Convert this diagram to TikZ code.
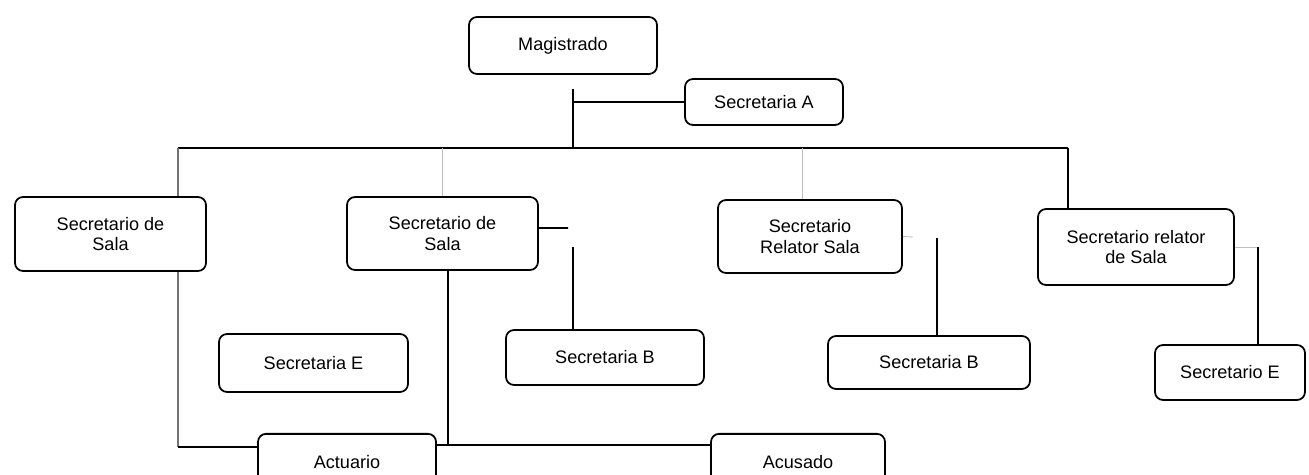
\documentclass[tikz,border=0pt]{standalone}
\usepackage{fontspec}
\setmainfont{Liberation Sans}
\usetikzlibrary{positioning, calc}

\begin{document}
\begin{tikzpicture}[x=0.02cm, y=-0.02cm,
    orgbox/.style={draw, rounded corners=0.16cm, line width=1pt, align=center,
        inner sep=0pt, font=\fontsize{10.3}{11.6}\selectfont},
    link/.style={line width=0.9pt},
    thinlink/.style={line width=0.6pt, black!55},
    faint/.style={line width=0.5pt, black!25}]
                \useasboundingbox (0,0) rectangle (1309,475);
                \clip (0,0) rectangle (1309,475);

                % Top level
                \node[orgbox, minimum width=3.76cm, minimum height=1.14cm] (mag) at (563,45.5) {Magistrado};
                \node[orgbox, minimum width=3.16cm, minimum height=0.92cm] (secA) at (764,102) {Secretaria A};

                % Secretarios
                \node[orgbox, minimum width=3.82cm, minimum height=1.48cm] (sala1) at (110.5,234) {Secretario de\\Sala};
                \node[orgbox, minimum width=3.82cm, minimum height=1.46cm] (sala2) at (442.5,233.5) {Secretario de\\Sala};
                \node[orgbox, minimum width=3.68cm, minimum height=1.46cm] (relS) at (810,236.5) {Secretario\\Relator Sala};
                \node[orgbox, minimum width=3.92cm, minimum height=1.52cm] (relDS) at (1136,247) {Secretario relator\\de Sala};

                % Secretarias
                \node[orgbox, minimum width=3.78cm, minimum height=1.16cm] (secE) at (313.5,363) {Secretaria E};
                \node[orgbox, minimum width=3.96cm, minimum height=1.10cm] (secB1) at (605,357.5) {Secretaria B};
                \node[orgbox, minimum width=4.04cm, minimum height=1.06cm] (secB2) at (929,362.5) {Secretaria B};
                \node[orgbox, minimum width=3.00cm, minimum height=1.10cm] (secE2) at (1230,372.5) {Secretario E};

                % Bottom row
                \node[orgbox, minimum width=3.56cm, minimum height=1.14cm, anchor=north] (act) at (347,433) {Actuario};
                \node[orgbox, minimum width=3.48cm, minimum height=1.14cm, anchor=north] (acu) at (798,433) {Acusado};

                % Bus and stubs
                \coordinate (trunk) at (573,148);
                \coordinate (busL) at (178,148);
                \coordinate (busR) at (1068,148);
                \coordinate (s2stub) at (568,228);
                \coordinate (b1top) at (573,247);
                \coordinate (rsstub) at (913,237);
                \coordinate (b2top) at (937,238);
                \coordinate (e2top) at (1258,247);
                \coordinate (a448) at (448,445);
                \coordinate (leftdn) at (178,447);

                \draw[link, shorten <=0.28cm] (mag.south -| trunk) -- (trunk);
                \draw[link] (secA.west) -- (secA.west -| trunk);
                \draw[link, line width=1.1pt] (busL) -- (busR);
                \draw[thinlink] (busL) -- (busL |- sala1.north);
                \draw[link] (busR) -- (busR |- relDS.north);
                \draw[faint] (busL -| sala2.north) -- (sala2.north);
                \draw[faint] ($(busR -| relS.north)+(-8,0)$) -- ($(relS.north)+(-8,0)$);

                % Sala links
                \draw[link] ([yshift=0.11cm]sala2.east) -- (s2stub);
                \draw[link] (b1top) -- (b1top |- secB1.north);
                \draw[link] (a448 |- sala2.south) -- (a448);
                \draw[thinlink] (sala1.south -| busL) -- (leftdn);
                \draw[link] (leftdn) -- (leftdn -| act.west);
                \draw[link] ([yshift=-0.24cm]act.north east) -- ([yshift=-0.24cm]acu.north west);
                \draw[faint] (relS.east) -- (rsstub);
                \draw[link] (b2top) -- (b2top |- secB2.north);
                \draw[faint] (relDS.east) -- (e2top);
                \draw[link] (e2top) -- (e2top |- secE2.north);
            \end{tikzpicture}
\end{document}
